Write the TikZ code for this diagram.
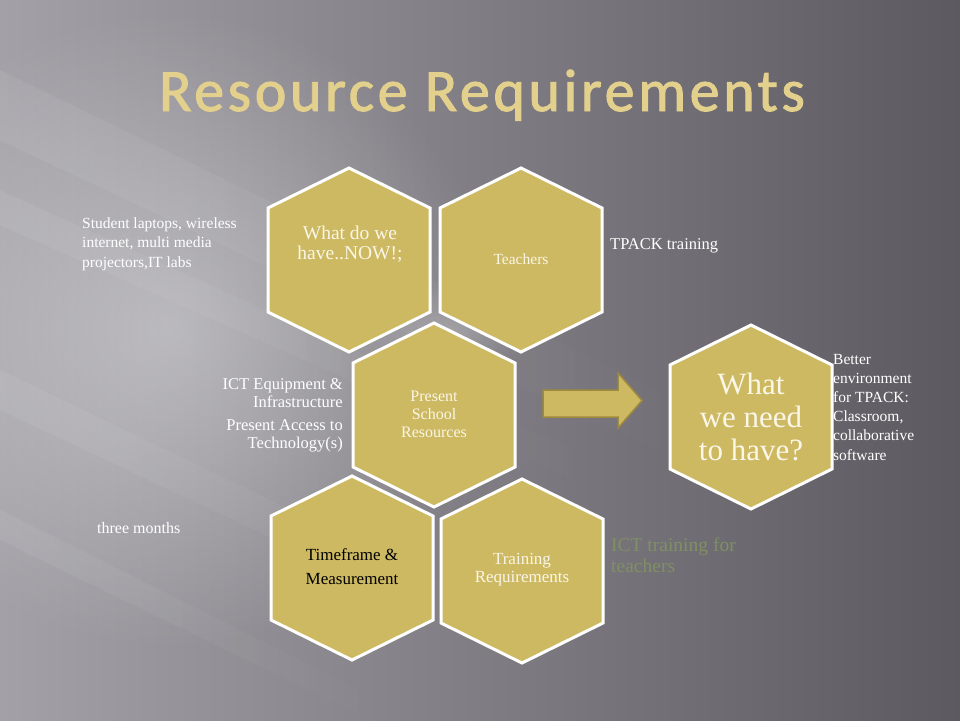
\documentclass[tikz,border=0pt]{standalone}
\usepackage{fontspec}
\setmainfont{Liberation Serif}
\newfontfamily\titlefont[LetterSpace=6.0,FakeBold=1.6]{Carlito}
\usetikzlibrary{calc,fadings}
\definecolor{hexgold}{HTML}{CDB962}
\definecolor{hexedge}{HTML}{9E8A3E}
\definecolor{titlegold}{HTML}{E2D08C}
\definecolor{bgA}{HTML}{A3A1A7}
\definecolor{bgM}{HTML}{76747A}
\definecolor{bgB}{HTML}{5C5A60}
\definecolor{hextxt}{HTML}{FAF6E8}
\definecolor{olive}{HTML}{7F9062}
\tikzfading[name=fadeRight, left color=transparent!70, right color=transparent!100]
\tikzfading[name=glow, inner color=transparent!65, outer color=transparent!100]
\tikzset{
  hexfill/.style={fill=hexgold, draw=white, line width=3pt, line join=miter},
  pics/hexshape/.style={code={\path[hexfill] (0,-92) -- (81,-52) -- (81,52) -- (0,92) -- (-81,52) -- (-81,-52) -- cycle;}},
  hextext/.style={inner sep=0pt, align=center, text=hextxt},
  sidetext/.style={inner sep=0pt, text=white},
  arrowblock/.style={fill=hexgold, draw=hexedge, line width=1.5pt, line join=miter},
  streak/.style={fill=white, path fading=fadeRight, fit fading=true}
}
\begin{document}
\begin{tikzpicture}[x=1pt,y=-1pt]
\useasboundingbox (0,0) rectangle (960,720);
% background
\shade[left color=bgA, middle color=bgM, right color=bgB] (0,0) rectangle (960,720);
\fill[white, path fading=glow] (170,330) ellipse (330pt and 320pt);
\fill[white, path fading=glow, opacity=0.6] (450,330) ellipse (90pt and 45pt);
\begin{scope}[opacity=0.22]
\fill[streak] (0,70) -- (720,420) -- (720,480) -- (0,140) -- cycle;
\fill[streak] (0,190) -- (620,470) -- (620,500) -- (0,225) -- cycle;
\fill[streak] (0,370) -- (520,620) -- (520,655) -- (0,410) -- cycle;
\fill[streak] (0,510) -- (420,720) -- (370,720) -- (0,540) -- cycle;
\end{scope}
% title
\node[inner sep=0pt, anchor=base, text=titlegold, font=\titlefont\fontsize{60}{60}\selectfont] (title) at (482,111) {Resource Requirements};
% hexagon centres
\coordinate (c1) at (349,260);
\coordinate (c2) at (521,260);
\coordinate (c3) at (434,415);
\coordinate (c4) at (352,568);
\coordinate (c5) at (522,571);
\coordinate (c6) at (751,417);
\pic at (c1) {hexshape};
\pic at (c2) {hexshape};
\pic at (c3) {hexshape};
\pic at (c4) {hexshape};
\pic at (c5) {hexshape};
\pic at (c6) {hexshape};
% hexagon texts
\node[hextext, font=\fontsize{19.5}{20}\selectfont] (t1) at (350,244) {What do we\\have..NOW!;};
\node[hextext, font=\fontsize{15.5}{18}\selectfont] (t2) at (521,259) {Teachers};
\node[hextext, font=\fontsize{16}{18}\selectfont] (t3) at (434,414) {Present\\School\\Resources};
\node[hextext, text=black, font=\fontsize{17}{24}\selectfont] (t4) at (352,567) {Timeframe \&\\Measurement};
\node[hextext, font=\fontsize{17}{18}\selectfont] (t5) at (522,570) {Training\\Requirements};
\node[hextext, font=\fontsize{31}{33}\selectfont] (t6) at (751,417) {What\\we need\\to have?};
% arrow
\coordinate (a1) at (543,390);
\path[arrowblock] (a1) -- (618,390) -- (618,373) -- (642,400.5) -- (618,428) -- (618,417) -- (543,417) -- cycle;
% side texts
\node[sidetext, anchor=west, align=left, font=\fontsize{15.5}{19.5}\selectfont] (s1) at (82,244) {Student laptops, wireless\\internet, multi media\\projectors,IT labs};
\node[sidetext, anchor=west, font=\fontsize{16.5}{18}\selectfont] (s2) at (610,246) {TPACK training};
\node[sidetext, anchor=east, align=right, font=\fontsize{16.5}{18}\selectfont] (s3) at (343,393) {ICT Equipment \&\\Infrastructure};
\node[sidetext, anchor=east, align=right, font=\fontsize{16.5}{18}\selectfont] (s4) at (343,436) {Present Access to\\Technology(s)};
\node[sidetext, anchor=west, align=left, font=\fontsize{15.5}{19.2}\selectfont] (s5) at (833,407) {Better\\environment\\for TPACK:\\Classroom,\\collaborative\\software};
\node[sidetext, anchor=west, font=\fontsize{16}{18}\selectfont] (s6) at (97,528) {three months};
\node[sidetext, text=olive, anchor=west, align=left, font=\fontsize{19.5}{21}\selectfont] (s7) at (611,555.5) {ICT training for\\teachers};
\end{tikzpicture}
\end{document}
